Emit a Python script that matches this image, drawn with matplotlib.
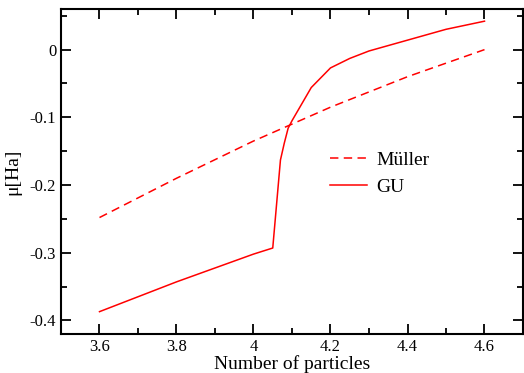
import matplotlib
matplotlib.use("Agg")
import matplotlib.pyplot as plt
from matplotlib.ticker import MultipleLocator

plt.rcParams['font.family'] = ['Liberation Serif', 'DejaVu Serif']

muller_x = [3.6, 3.8, 4.0, 4.2, 4.4, 4.6]
muller_y = [-0.248, -0.190, -0.135, -0.085, -0.040, 0.0]

gu_x = [3.6, 3.8, 4.0, 4.05, 4.06, 4.07, 4.08, 4.09, 4.1, 4.15, 4.2, 4.25, 4.3, 4.4, 4.5, 4.6]
gu_y = [-0.387, -0.343, -0.302, -0.293, -0.228, -0.163, -0.138, -0.116, -0.105, -0.056, -0.027, -0.013, -0.002, 0.014, 0.030, 0.042]

xticks = [3.6, 3.8, 4.0, 4.2, 4.4, 4.6]
xticklabels = ['3.6', '3.8', '4', '4.2', '4.4', '4.6']
yticks = [-0.4, -0.3, -0.2, -0.1, 0.0]
yticklabels = ['-0.4', '-0.3', '-0.2', '-0.1', '0']

fig = plt.figure(figsize=(5.24, 3.73), dpi=100)
ax = fig.add_axes([61/524, 1-334/373, (523-61)/524, (334-9)/373])

ax.plot(muller_x, muller_y, color='#ff0000', lw=1.1, dashes=(5.5, 3.5), label='Müller')
ax.plot(gu_x, gu_y, color='#ff0000', lw=1.1, label='GU')

ax.set_xlim(3.5, 4.7)
ax.set_ylim(-0.42, 0.06)
ax.set_xticks(xticks)
ax.set_xticklabels(xticklabels)
ax.set_yticks(yticks)
ax.set_yticklabels(yticklabels)
ax.xaxis.set_minor_locator(MultipleLocator(0.1))
ax.yaxis.set_minor_locator(MultipleLocator(0.05))
ax.tick_params(which='both', direction='in', top=True, right=True, width=1.3, labelsize=12, colors='black')
ax.tick_params(which='major', length=7)
ax.tick_params(which='minor', length=4)
for s in ax.spines.values():
    s.set_linewidth(1.5)

ax.set_xlabel('Number of particles', fontsize=14, labelpad=0)
ax.set_ylabel('μ[Ha]', fontsize=14, labelpad=6)

ax.legend(loc='upper left', bbox_to_anchor=(0.582, 0.563), frameon=False, fontsize=14,
          handlelength=1.9, handletextpad=0.5, labelspacing=0.5, borderpad=0, borderaxespad=0)

fig.savefig('out.png', dpi=100)
